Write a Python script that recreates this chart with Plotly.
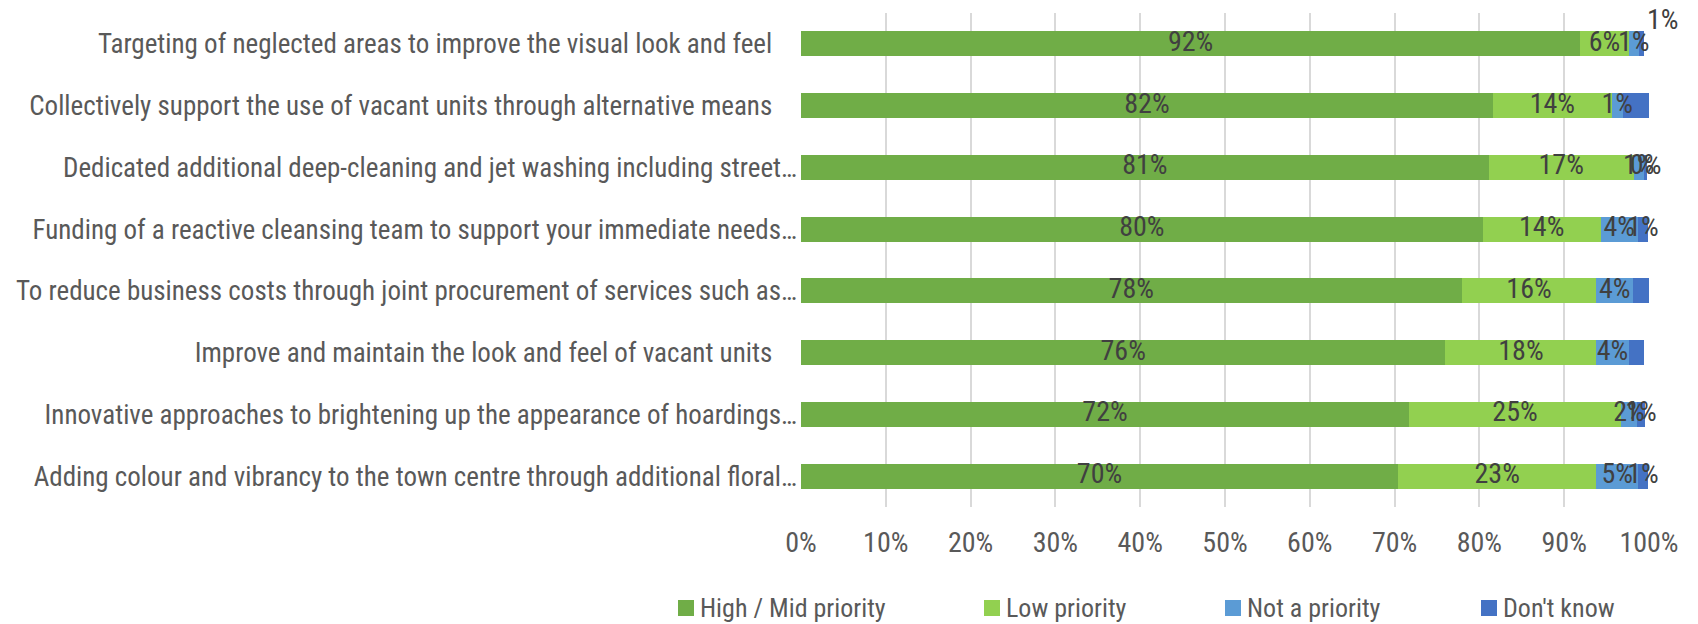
import plotly.graph_objects as go

# Survey results: priority given to each town-centre initiative (% of respondents)
categories = [
    "Targeting of neglected areas to improve the visual look and feel",
    "Collectively support the use of vacant units through alternative means",
    "Dedicated additional deep-cleaning and jet washing including street\u2026",
    "Funding of a reactive cleansing team to support your immediate needs\u2026",
    "To reduce business costs through joint procurement of services such as\u2026",
    "Improve and maintain the look and feel of vacant units",
    "Innovative approaches to brightening up the appearance of hoardings\u2026",
    "Adding colour and vibrancy to the town centre through additional floral\u2026",
]

series_names = ["High / Mid priority", "Low priority", "Not a priority", "Don't know"]

high_mid = [91.9, 81.6, 81.1, 80.4, 77.9, 76.0, 71.7, 70.4]
low = [5.7, 14.0, 17.1, 13.9, 15.9, 17.8, 25.0, 23.4]
not_priority = [1.2, 1.3, 1.2, 4.4, 4.3, 3.8, 1.9, 4.9]
dont_know = [0.6, 3.1, 0.4, 1.2, 1.9, 1.8, 0.9, 1.2]

series_values = [high_mid, low, not_priority, dont_know]
colors = ["#70AD47", "#92D050", "#5B9BD5", "#4472C4"]

# (series index, category index) pairs whose value label is not shown inside the bar
unlabelled = {(3, 1), (3, 4), (3, 5)}
# label drawn above the bar end instead of inside it
raised_label = (3, 0)

FONT = "Liberation Sans Narrow, Arial Narrow, Roboto Condensed, sans-serif"
AXIS_GREY = "#595959"
LABEL_GREY = "#404040"

W, H = 1698, 624
PLOT_L, PLOT_R, PLOT_T, PLOT_B = 801, 1649, 13, 507


def px_x(x):
    return (x - PLOT_L) / (PLOT_R - PLOT_L)


def px_y(y):
    return (PLOT_B - y) / (PLOT_B - PLOT_T)


# full (untruncated) labels sit a little further from the axis
tick_text = [c if c.endswith("\u2026") else c + "\u00a0" * 4 for c in categories]

fig = go.Figure()

for name, vals, col in zip(series_names, series_values, colors):
    fig.add_trace(go.Bar(
        name=name, y=categories, x=vals, orientation="h",
        marker=dict(color=col, line=dict(width=0)),
        hoverinfo="skip",
    ))

# value labels centred in each segment
base = [0.0] * len(categories)
for si, vals in enumerate(series_values):
    xs, ys, ts = [], [], []
    for ci, v in enumerate(vals):
        if (si, ci) not in unlabelled and (si, ci) != raised_label:
            xs.append(base[ci] + v / 2)
            ys.append(categories[ci])
            ts.append(f"{v:.0f}%")
        base[ci] += v
    fig.add_trace(go.Scatter(
        x=xs, y=ys, text=ts, mode="text",
        textfont=dict(family=FONT, size=28, color=LABEL_GREY),
        textposition="middle center", cliponaxis=False,
        hoverinfo="skip", showlegend=False,
    ))

si, ci = raised_label
annotations = [dict(
    x=100, y=categories[ci], xref="x", yref="y",
    text=f"{series_values[si][ci]:.0f}%", showarrow=False,
    xanchor="left", yanchor="middle", xshift=-4, yshift=24,
    font=dict(family=FONT, size=28, color=LABEL_GREY),
)]

# legend along the bottom
shapes = []
legend_left = [678, 984, 1225, 1481]
legend_y = 608
sq = 16
for name, col, lx in zip(series_names, colors, legend_left):
    shapes.append(dict(
        type="rect", xref="paper", yref="paper",
        x0=px_x(lx), x1=px_x(lx + sq),
        y0=px_y(legend_y + sq / 2), y1=px_y(legend_y - sq / 2),
        fillcolor=col, line=dict(width=0),
    ))
    annotations.append(dict(
        x=px_x(lx + sq + 4), y=px_y(legend_y), xref="paper", yref="paper",
        text=name, showarrow=False, xanchor="left", yanchor="middle",
        font=dict(family=FONT, size=26, color=AXIS_GREY),
    ))

fig.update_layout(
    width=W, height=H,
    margin=dict(l=PLOT_L, r=W - PLOT_R, t=PLOT_T, b=H - PLOT_B, pad=0, autoexpand=False),
    barmode="stack", bargap=0.595,
    plot_bgcolor="white", paper_bgcolor="white",
    showlegend=False,
    shapes=shapes, annotations=annotations,
    font=dict(family=FONT, size=28, color=AXIS_GREY),
)

fig.update_xaxes(
    range=[0, 100], dtick=10, ticksuffix="%",
    showgrid=True, gridcolor="#D9D9D9", gridwidth=2,
    zeroline=False, showline=False, ticks="",
    tickfont=dict(family=FONT, size=28, color=AXIS_GREY),
    ticklabelstandoff=16, fixedrange=True, automargin=False,
)

fig.update_yaxes(
    type="category", autorange="reversed",
    tickmode="array", tickvals=categories, ticktext=tick_text,
    showgrid=False, zeroline=False, showline=False, ticks="",
    tickfont=dict(family=FONT, size=27, color=AXIS_GREY),
    ticklabelstandoff=3, fixedrange=True, automargin=False,
)

fig.write_html("out.html")
